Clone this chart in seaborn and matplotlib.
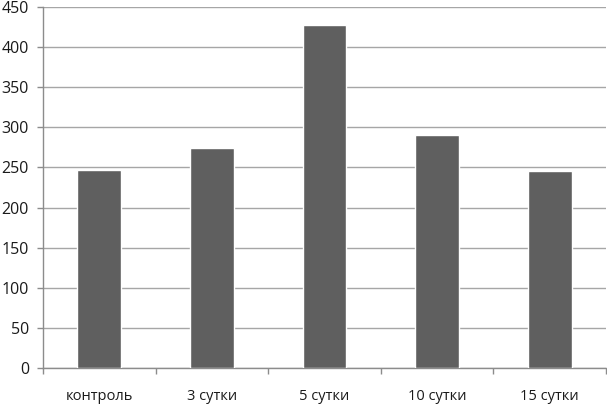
import pandas as pd
import matplotlib
matplotlib.use('Agg')
import matplotlib.pyplot as plt
import seaborn as sns

# Values
categories = ['контроль', '3 сутки', '5 сутки', '10 сутки', '15 сутки']
values = [247, 274, 428, 291, 245]
y_ticks = [0, 50, 100, 150, 200, 250, 300, 350, 400, 450]

df = pd.DataFrame({'group': categories, 'value': values})

sns.set_style('white')
plt.rcParams['font.family'] = ['Open Sans', 'DejaVu Sans']

fig = plt.figure(figsize=(6.07, 4.04), dpi=100)
ax = fig.add_axes([43 / 607, 1 - 368 / 404, 563 / 607, 361 / 404])

sns.barplot(data=df, x='group', y='value', color='#5f5f5f', saturation=1,
            width=0.39, order=categories, ax=ax, zorder=3)

ax.set_ylim(0, 450)
ax.set_xlim(-0.5, len(categories) - 0.5)
ax.set_yticks(y_ticks)
ax.set_yticklabels([str(t) for t in y_ticks])
ax.yaxis.grid(True, color='#a6a6a6', linewidth=1)
ax.set_axisbelow(True)
ax.set_xlabel('')
ax.set_ylabel('')

# category boundary ticks on the x axis
ax.set_xticks([i - 0.5 for i in range(len(categories) + 1)], minor=True)
ax.tick_params(axis='x', which='minor', length=4, color='#8c8c8c', width=1, direction='out', bottom=True)
ax.tick_params(axis='x', which='major', length=0, pad=15, labelsize=10.5, labelcolor='#1a1a1a')
ax.tick_params(axis='y', length=4, color='#8c8c8c', width=1, pad=6, labelsize=11.5, labelcolor='#1a1a1a', left=True)

for side in ['top', 'right']:
    ax.spines[side].set_visible(False)
for side in ['left', 'bottom']:
    ax.spines[side].set_color('#8c8c8c')
    ax.spines[side].set_linewidth(1)

fig.savefig('out.png', dpi=100, facecolor='white')
